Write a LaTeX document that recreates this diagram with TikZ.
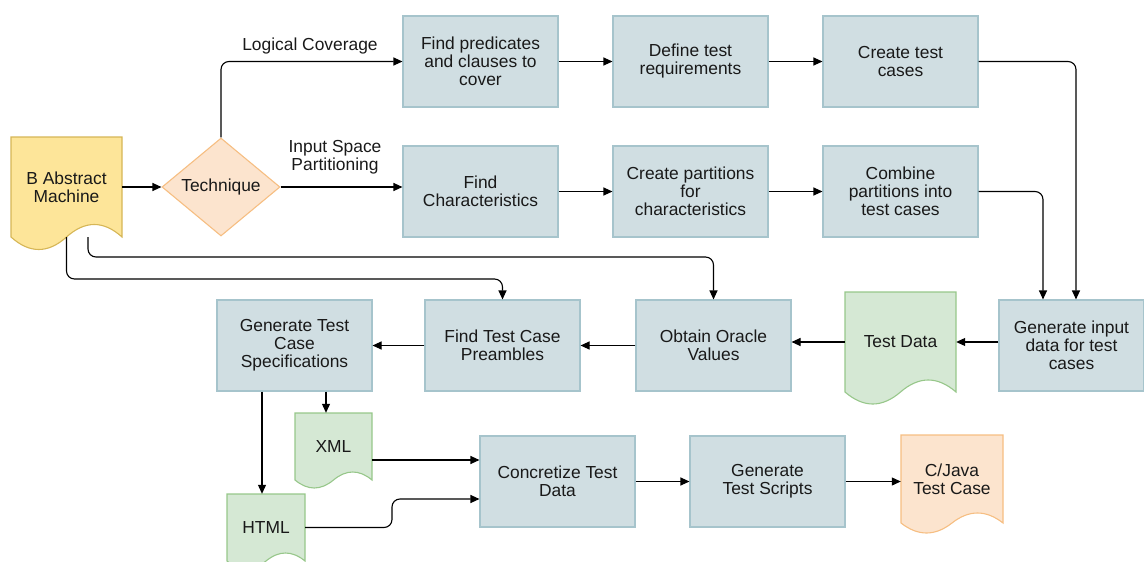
\documentclass[tikz,border=0pt]{standalone}
\usepackage{fontspec}
\setmainfont{Liberation Sans}
\usetikzlibrary{arrows.meta,shapes.geometric,calc}

\definecolor{boxfill}{RGB}{208,222,226}
\definecolor{boxline}{RGB}{166,196,204}
\definecolor{yelfill}{RGB}{253,229,153}
\definecolor{yelline}{RGB}{214,182,86}
\definecolor{orfill}{RGB}{252,228,206}
\definecolor{orline}{RGB}{246,190,130}
\definecolor{grfill}{RGB}{213,232,212}
\definecolor{grline}{RGB}{151,199,138}

% document shape: straight top and sides, wavy bottom edge
% #1 name, #2 left, #3 top, #4 right, #5 bottom of the sides, #6 wave amplitude, #7 style, #8 text
\newcommand\docshape[8]{%
  \path[#7] (#2,#3) -- (#4,#3) -- (#4,#5)
    .. controls ({#4-(#4-#2)/6},{#5-4*#6/3}) and ({(#2+#4)/2+(#4-#2)/6},{#5-4*#6/3}) .. ({(#2+#4)/2},#5)
    .. controls ({(#2+#4)/2-(#4-#2)/6},{#5+4*#6/3}) and ({#2+(#4-#2)/6},{#5+4*#6/3}) .. (#2,#5) -- cycle;
  \node[doctext, minimum width={#4-#2}, minimum height={#5-#3}] (#1) at ({(#2+#4)/2},{(#3+#5)/2}) {#8};
}

\begin{document}
\begin{tikzpicture}[x=1pt, y=-1pt,
  every node/.style={font=\fontsize{17.4}{18}\selectfont, text=black!90},
  proc/.style={rectangle, draw=boxline, fill=boxfill, line width=1.1pt,
    minimum width=155pt, minimum height=91pt, inner sep=0pt, align=center},
  doctext/.style={rectangle, inner sep=0pt, align=center},
  docyellow/.style={fill=yelfill, draw=yelline, line width=1.1pt},
  docgreen/.style={fill=grfill, draw=grline, line width=1.1pt},
  docorange/.style={fill=orfill, draw=orline, line width=1.1pt},
  decision/.style={diamond, draw=orline, fill=orfill, line width=1.1pt,
    minimum width=118pt, minimum height=98pt, inner sep=0pt},
  conn/.style={draw=black, line width=1.1pt, rounded corners=8pt,
    -{Triangle[length=9pt,width=8pt]}},
  lbl/.style={align=center, inner sep=0pt}
]
\useasboundingbox (0,0) rectangle (1144,562);

% sources and decision
\docshape{bam}{11}{137}{122}{237}{12.5}{docyellow}{B Abstract\\Machine}
\node[decision] (tech) at (221,187) {Technique};

% logical coverage branch
\node[proc] (findpred) at (480.5,61.5) {Find predicates\\and clauses to\\cover};
\node[proc] (deftr)    at (690.5,61.5) {Define test\\requirements};
\node[proc] (ctc)      at (900.5,61.5) {Create test\\cases};

% input space partitioning branch
\node[proc] (findchar) at (480.5,191.5) {Find\\Characteristics};
\node[proc] (cpart)    at (690.5,191.5) {Create partitions\\for\\characteristics};
\node[proc] (comb)     at (900.5,191.5) {Combine\\partitions into\\test cases};

% test data pipeline
\node[proc, minimum width=145pt] (gen) at (1071.5,345.5) {Generate input\\data for test\\cases};
\docshape{td}{845}{292}{956}{392}{12}{docgreen}{Test Data}
\node[proc] (oracle) at (713.5,345.5) {Obtain Oracle\\Values};
\node[proc] (pre)    at (502.5,345.5) {Find Test Case\\Preambles};
\node[proc] (spec)   at (294.5,345.5) {Generate Test\\Case\\Specifications};

% outputs
\docshape{xml}{295}{413}{372}{480}{8}{docgreen}{XML}
\docshape{html}{227}{494}{305}{561}{8}{docgreen}{HTML}
\node[proc] (conc)    at (557.5,481.5) {Concretize Test\\Data};
\node[proc] (scripts) at (767.5,481.5) {Generate\\Test Scripts};
\docshape{cjava}{901}{435}{1003}{523}{10}{docorange}{C/Java\\Test Case};

% branch labels
\node[lbl] (lblc) at (310,46) {Logical Coverage};
\node[lbl] (lbli) at (335,157) {Input Space\\Partitioning};

% helper points for routing
\coordinate (r1) at (0,279);
\coordinate (r2) at (0,257);
\coordinate (bam2) at ([xshift=21.5pt]bam.south);
\coordinate (s1) at ([xshift=-32.5pt]spec.south);
\coordinate (s2) at ([xshift=31.5pt]spec.south);
\coordinate (x1) at ([yshift=-13.5pt]xml.east);
\coordinate (hb) at (392,499);

% connectors
\draw[conn] (bam.east) -- (tech.west);
\draw[conn] (tech.north) |- (findpred.west);
\draw[conn] (tech.east) -- (tech.east -| findchar.west);
\draw[conn] (findpred) -- (deftr);
\draw[conn] (deftr) -- (ctc);
\draw[conn] (findchar) -- (cpart);
\draw[conn] (cpart) -- (comb);
\draw[conn] (ctc.east) -| ([xshift=4.5pt]gen.north);
\draw[conn] (comb.east) -| ([xshift=-28.5pt]gen.north);
\draw[conn] (gen.west |- td.east) -- (td.east);
\draw[conn] (td.west) -- (td.west -| oracle.east);
\draw[conn] (oracle) -- (pre);
\draw[conn] (pre) -- (spec);
\draw[conn] (bam.south) -- (bam.south |- r1) -| (pre.north);
\draw[conn] (bam2) -- (bam2 |- r2) -| (oracle.north);
\draw[conn] (s1) -- (s1 |- html.north);
\draw[conn] (s2) -- (s2 |- xml.north);
\draw[conn] (x1) -- (x1 -| conc.west);
\draw[conn] (html.east) -| (hb) -- (hb -| conc.west);
\draw[conn] (conc) -- (scripts);
\draw[conn] (scripts.east) -- (scripts.east -| cjava.west);
\end{tikzpicture}
\end{document}
